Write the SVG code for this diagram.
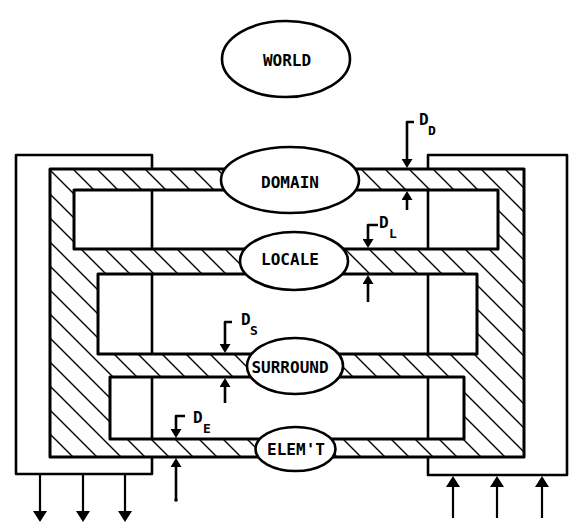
<svg xmlns="http://www.w3.org/2000/svg" width="569" height="527" viewBox="0 0 569 527">
<style>
.ol{fill:none;stroke:#000;stroke-width:2.6;stroke-linejoin:round}
.frame{fill:url(#hp);stroke:#000;stroke-width:3;fill-rule:evenodd;stroke-linejoin:round}
.node ellipse{fill:#fff;stroke:#000;stroke-width:2.6}
.lbl{font-family:"DejaVu Sans Mono","Liberation Mono",monospace;font-size:16px;font-weight:bold;text-anchor:middle;fill:#000}
.dl{font-family:"DejaVu Sans Mono","Liberation Mono",monospace;font-size:16px;font-weight:bold;fill:#000}
.sub{font-size:13px}
.arr{fill:none;stroke:#000;stroke-width:2.2}
.darr{fill:none;stroke:#000;stroke-width:2.6;stroke-linejoin:round}
</style>
<defs>
<pattern id="hp" patternUnits="userSpaceOnUse" width="24" height="24">
<rect width="24" height="24" fill="#fff"/>
<path d="M0,0 L24,24 M-2,22 L2,26 M22,-2 L26,2" stroke="#000" stroke-width="1.4"/>
</pattern>
<marker id="ah" markerUnits="userSpaceOnUse" markerWidth="11" markerHeight="14" viewBox="0 -7 11 14" refX="7" refY="0" orient="auto">
<path d="M0,-7 L11,0 L0,7 Z" fill="#000"/>
</marker>
<marker id="as" markerUnits="userSpaceOnUse" markerWidth="9" markerHeight="11" viewBox="0 -5.5 9 11" refX="5" refY="0" orient="auto">
<path d="M0,-5.5 L9,0 L0,5.5 Z" fill="#000"/>
</marker>
</defs>
<rect width="569" height="527" fill="#fff"/>

<g id="left-bracket"><rect class="ol" x="16" y="155" width="136" height="319"/></g>
<g id="right-bracket"><rect class="ol" x="428" y="155" width="139" height="320"/></g>

<g id="frame">
<path class="frame" d="M50,169 H524 V457 H50 Z M74,190 H498 V249 H74 Z M98,274 H477 V354 H98 Z M110,377 H464 V439 H110 Z"/>
</g>

<g id="world" class="node"><ellipse cx="286" cy="59" rx="64" ry="38"/><text class="lbl" x="287" y="66">WORLD</text></g>
<g id="domain" class="node"><ellipse cx="290" cy="180" rx="69" ry="33"/><text class="lbl" x="290" y="188">DOMAIN</text></g>
<g id="locale" class="node"><ellipse cx="294" cy="261" rx="54" ry="29"/><text class="lbl" x="290" y="265">LOCALE</text></g>
<g id="surround" class="node"><ellipse cx="295" cy="366" rx="48" ry="28"/><text class="lbl" x="290" y="373">SURROUND</text></g>
<g id="element" class="node"><ellipse cx="295.5" cy="449" rx="40" ry="22"/><text class="lbl" x="296" y="455">ELEM'T</text></g>

<g id="connectors">
<path class="arr" d="M40,474 V518" marker-end="url(#ah)"/>
<path class="arr" d="M83,474 V518" marker-end="url(#ah)"/>
<path class="arr" d="M125,474 V518" marker-end="url(#ah)"/>
<path class="arr" d="M453,518 V480" marker-end="url(#ah)"/>
<path class="arr" d="M497,518 V480" marker-end="url(#ah)"/>
<path class="arr" d="M542,518 V480" marker-end="url(#ah)"/>

<path class="darr" d="M414,122 H407 V164" marker-end="url(#as)"/>
<path class="darr" d="M407,210 V195" marker-end="url(#as)"/>
<path class="darr" d="M378,225 H368 V244" marker-end="url(#as)"/>
<path class="darr" d="M368,302 V279" marker-end="url(#as)"/>
<path class="darr" d="M232,322 H225 V349" marker-end="url(#as)"/>
<path class="darr" d="M225,403 V382" marker-end="url(#as)"/>
<path class="darr" d="M185,416 H176 V434" marker-end="url(#as)"/>
<path class="darr" d="M176,500 V462" marker-end="url(#as)"/>
<circle cx="176" cy="500" r="1.8" fill="#000"/>
</g>

<g id="d-labels">
<text class="dl" x="419" y="125">D<tspan class="sub" x="428" y="135">D</tspan></text>
<text class="dl" x="379" y="228">D<tspan class="sub" x="389" y="238">L</tspan></text>
<text class="dl" x="241" y="325">D<tspan class="sub" x="250" y="335">S</tspan></text>
<text class="dl" x="193" y="423">D<tspan class="sub" x="203" y="433">E</tspan></text>
</g>
</svg>
